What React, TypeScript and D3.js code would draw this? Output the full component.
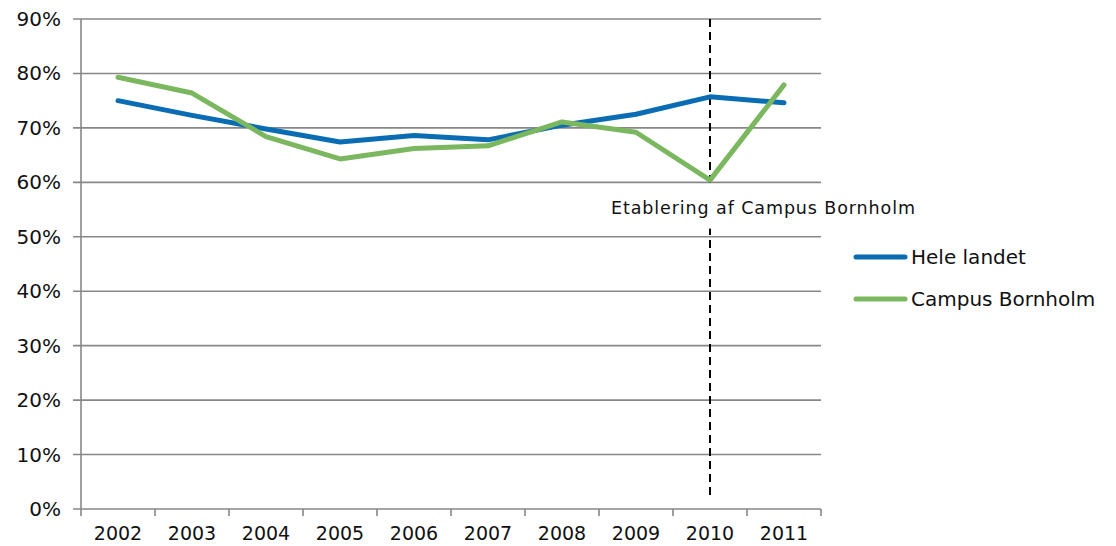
import * as d3 from "d3";
import React from "react";

const years = ["2002", "2003", "2004", "2005", "2006", "2007", "2008", "2009", "2010", "2011"];
const heleLandet = [75.0, 72.3, 69.8, 67.4, 68.6, 67.8, 70.5, 72.5, 75.7, 74.6];
const campusBornholm = [79.3, 76.4, 68.4, 64.3, 66.2, 66.7, 71.1, 69.2, 60.4, 77.9];
const yTicks = [0, 10, 20, 30, 40, 50, 60, 70, 80, 90];
const seriesNames = ["Hele landet", "Campus Bornholm"];
const annotationYear = "2010";
const annotationText = "Etablering af Campus Bornholm";

const W = 1116;
const H = 546;
const font = "DejaVu Sans, Verdana, sans-serif";
const gridColor = "#878787";
const colors = ["#0A6DB3", "#7BB75E"];

const App: React.FC = () => {
  const x = d3.scaleBand<string>().domain(years).range([81, 821]);
  const y = d3.scaleLinear().domain([0, 90]).range([509, 19]);
  const cx = (d: string) => (x(d) ?? 0) + x.bandwidth() / 2;

  const line = d3
    .line<number>()
    .x((_, i) => cx(years[i]))
    .y(d => y(d));

  const series = [heleLandet, campusBornholm];
  const ax = cx(annotationYear);

  return (
    <svg width={W} height={H} style={{ position: "absolute", left: 0, top: 0, background: "#fff" }}>
      {/* gridlines + y ticks */}
      {yTicks.map(t => (
        <g key={t}>
          <line x1={73} x2={821} y1={y(t)} y2={y(t)} stroke={gridColor} strokeWidth={1.6} />
          <text x={61} y={y(t) + 7} textAnchor="end" fontFamily={font} fontSize={20} fill="#111">
            {t}%
          </text>
        </g>
      ))}
      {/* y axis */}
      <line x1={81} x2={81} y1={y(90)} y2={y(0)} stroke={gridColor} strokeWidth={1.6} />
      {/* x ticks */}
      {[...years.map(d => x(d) ?? 0), x.range()[1]].map((px, i) => (
        <line key={i} x1={px} x2={px} y1={y(0)} y2={y(0) + 7} stroke={gridColor} strokeWidth={1.6} />
      ))}
      {years.map(d => (
        <text key={d} x={cx(d)} y={540} textAnchor="middle" fontFamily={font} fontSize={19} fill="#111">
          {d}
        </text>
      ))}
      {/* annotation line */}
      <line x1={ax} x2={ax} y1={y(90)} y2={y(2.2)} stroke="#000" strokeWidth={2} strokeDasharray="8,5" />
      <rect x={606} y={y(60) + 3} width={314} height={y(51.5) - y(60) - 3} fill="#fff" />
      {/* series */}
      {series.map((s, i) => (
        <path key={i} d={line(s) ?? ""} fill="none" stroke={colors[i]} strokeWidth={5} strokeLinejoin="round" strokeLinecap="round" />
      ))}
      <text x={611} y={214} fontFamily={font} fontSize={17.5} fill="#111" textLength={304} lengthAdjust="spacing">
        {annotationText}
      </text>
      {/* legend */}
      {seriesNames.map((n, i) => (
        <g key={n} transform={`translate(0,${257 + i * 42})`}>
          <line x1={856} x2={905} y1={0} y2={0} stroke={colors[i]} strokeWidth={5} strokeLinecap="round" />
          <text x={911} y={7} fontFamily={font} fontSize={20} fill="#111">
            {n}
          </text>
        </g>
      ))}
    </svg>
  );
};

export default App;
